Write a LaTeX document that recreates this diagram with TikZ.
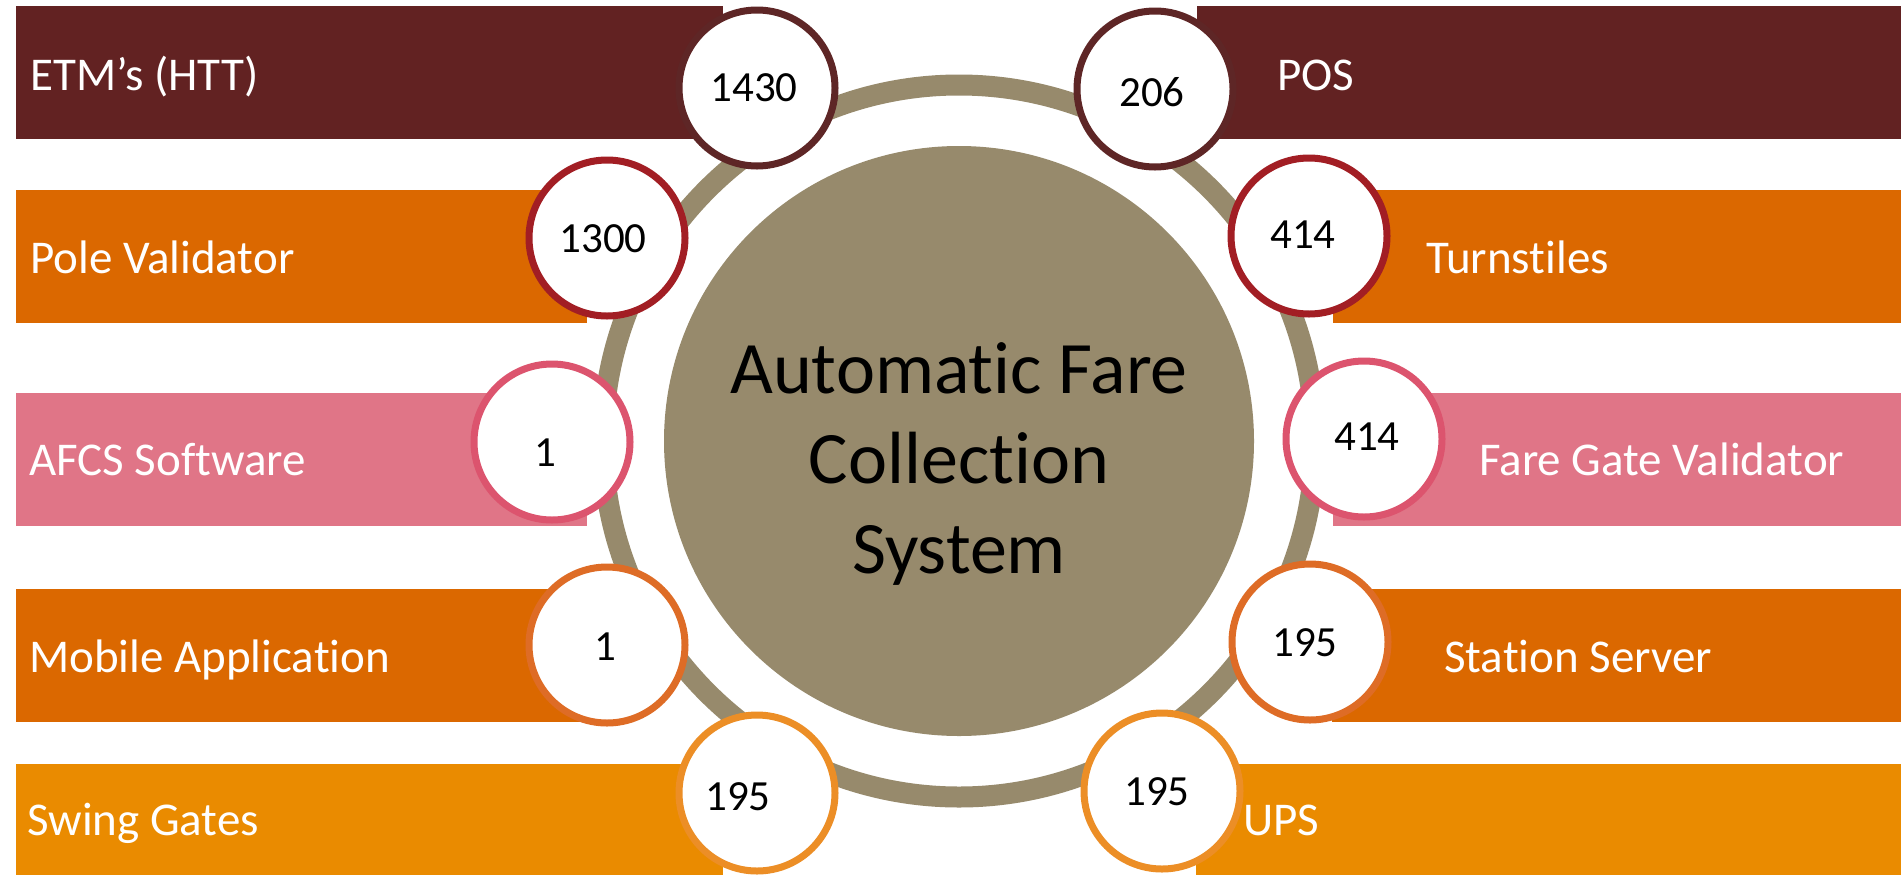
\documentclass[tikz,border=0pt]{standalone}
\usepackage{fontspec}
\setmainfont[Ligatures=NoCommon]{Carlito}
\definecolor{maroonbar}{RGB}{98,34,34}
\definecolor{maroonring}{RGB}{94,38,38}
\definecolor{orangebar}{RGB}{219,104,0}
\definecolor{redring}{RGB}{162,30,36}
\definecolor{pinkbar}{RGB}{224,117,135}
\definecolor{pinkring}{RGB}{220,84,110}
\definecolor{orangering}{RGB}{222,108,38}
\definecolor{amberbar}{RGB}{234,139,0}
\definecolor{amberring}{RGB}{236,142,38}
\definecolor{olive}{RGB}{151,138,108}
\tikzset{
  barlabel/.style={text=white, anchor=base west, inner sep=0pt, font=\fontsize{47}{50}\selectfont},
  numcirc/.style={circle, fill=white, line width=7pt, minimum size=156pt, inner sep=0pt},
  numtext/.style={text=black, inner sep=0pt, font=\fontsize{43}{46}\selectfont},
  centertext/.style={text=black, align=center, inner sep=0pt, font=\fontsize{74}{90}\selectfont}
}
\begin{document}
\begin{tikzpicture}[x=1pt,y=-1pt]
\useasboundingbox[fill=white] (0,0) rectangle (1901,879);
% left bars
\fill[maroonbar] (16,6) rectangle (723,139);
\fill[orangebar] (16,190) rectangle (587,323);
\fill[pinkbar] (16,393) rectangle (587,526);
\fill[orangebar] (16,589) rectangle (587,722);
\fill[amberbar] (16,764) rectangle (723,875);
% right bars
\fill[maroonbar] (1197,6) rectangle (1901,139);
\fill[orangebar] (1333,190) rectangle (1901,323);
\fill[pinkbar] (1333,393) rectangle (1901,526);
\fill[orangebar] (1332,589) rectangle (1901,722);
\fill[amberbar] (1196,764) rectangle (1901,875);
% labels
\node[barlabel] (l1) at (30,90) {ETM’s (HTT)};
\node[barlabel] (l2) at (30,273) {Pole Validator};
\node[barlabel] (l3) at (29,475) {AFCS Software};
\node[barlabel] (l4) at (29,672) {Mobile Application};
\node[barlabel] (l5) at (27,835) {Swing Gates};
\node[barlabel] (r1) at (1277,90) {POS};
\node[barlabel] (r2) at (1426,273) {Turnstiles};
\node[barlabel] (r3) at (1479,475) {Fare Gate Validator};
\node[barlabel] (r4) at (1444,672) {Station Server};
\node[barlabel] (r5) at (1243,835) {UPS};
% central circle
\draw[olive, line width=21pt] (959,441) circle[radius=356pt];
\node[circle, fill=olive, minimum size=590pt, inner sep=0pt] (core) at (959,441) {};
\node[centertext] (title) at (959,464) {Automatic Fare\\Collection\\System};
% number circles
\node[numcirc, draw=maroonring] (c1) at (757,88) {};
\node[numcirc, draw=redring] (c2) at (607,238) {};
\node[numcirc, draw=pinkring] (c3) at (552,442) {};
\node[numcirc, draw=orangering] (c4) at (607,645) {};
\node[numcirc, draw=amberring] (c5) at (757,793) {};
\node[numcirc, draw=maroonring] (d1) at (1155,89) {};
\node[numcirc, draw=redring] (d2) at (1309,236) {};
\node[numcirc, draw=pinkring] (d3) at (1364,439) {};
\node[numcirc, draw=orangering] (d4) at (1310,642) {};
\node[numcirc, draw=amberring] (d5) at (1162,791) {};
\node[numtext] (n1) at (754,88) {1430};
\node[numtext] (n2) at (603,239) {1300};
\node[numtext] (n3) at (545,453) {1};
\node[numtext] (n4) at (605,647) {1};
\node[numtext] (n5) at (738,797) {195};
\node[numtext] (m1) at (1152,92) {206};
\node[numtext] (m2) at (1303,235) {414};
\node[numtext] (m3) at (1367,437) {414};
\node[numtext] (m4) at (1305,643) {195};
\node[numtext] (m5) at (1157,792) {195};
\end{tikzpicture}
\end{document}
